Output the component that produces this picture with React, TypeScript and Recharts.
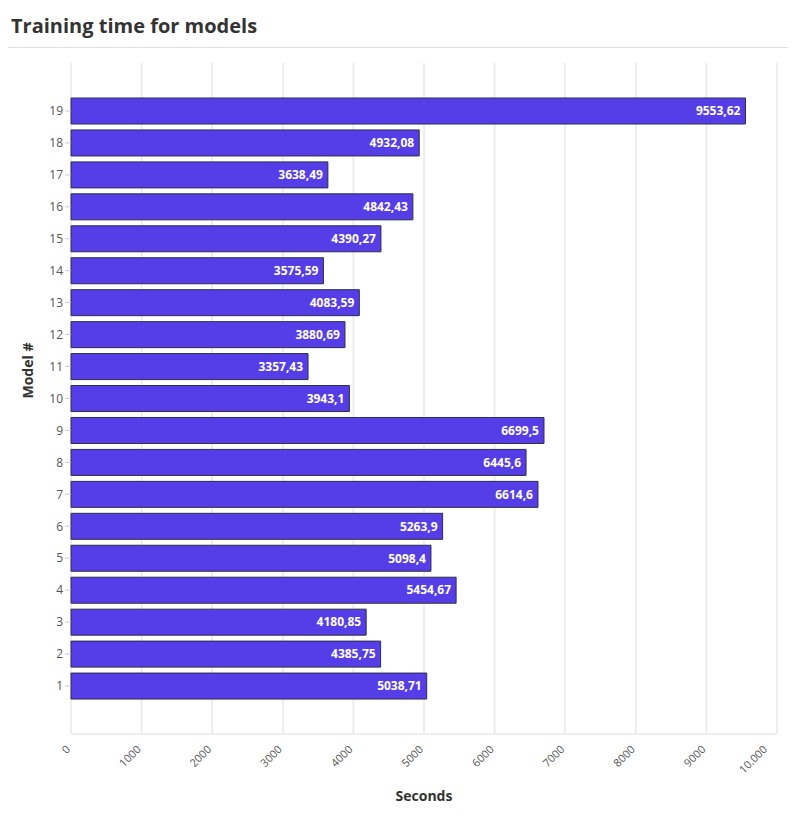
import { Bar, BarChart, CartesianGrid, LabelList, XAxis, YAxis } from 'recharts';

const MODELS = ['19', '18', '17', '16', '15', '14', '13', '12', '11', '10', '9', '8', '7', '6', '5', '4', '3', '2', '1'];
const SECONDS = [
  9553.62, 4932.08, 3638.49, 4842.43, 4390.27, 3575.59, 4083.59, 3880.69, 3357.43, 3943.1, 6699.5, 6445.6, 6614.6,
  5263.9, 5098.4, 5454.67, 4180.85, 4385.75, 5038.71,
];
const X_TICKS = [0, 1000, 2000, 3000, 4000, 5000, 6000, 7000, 8000, 9000, 10000];

const data = MODELS.map((m, i) => ({ model: m, seconds: SECONDS[i] }));
const FONT = '"Open Sans", sans-serif';

function AngledTick({ x, y, payload }: any) {
  const v = payload.value as number;
  const text = v === 10000 ? '10.000' : String(v);
  return (
    <text x={x} y={y + 8} transform={`rotate(-45 ${x} ${y + 8})`} textAnchor="end" fill="#555" fontSize={11} fontFamily={FONT}>
      {text}
    </text>
  );
}

export default function App() {
  return (
    <div style={{ width: 780, fontFamily: FONT }}>
      <div style={{ fontSize: 20, fontWeight: 700, color: '#333', padding: '4px 0 8px 3px', borderBottom: '1px solid #e2e2e2' }}>
        Training time for models
      </div>
      <BarChart width={780} height={780} data={data} layout="vertical" margin={{ top: 15, right: 11, bottom: 22, left: 0 }}>
        <CartesianGrid vertical horizontal={false} stroke="#e8e8e8" strokeWidth={1.5} />
        <XAxis
          type="number"
          domain={[0, 10000]}
          ticks={X_TICKS}
          tick={<AngledTick />}
          tickLine={false}
          axisLine={{ stroke: '#e8e8e8', strokeWidth: 1.5 }}
          height={72}
          label={{ value: 'Seconds', position: 'insideBottom', fill: '#333', fontSize: 14, fontWeight: 700, fontFamily: FONT }}
        />
        <YAxis
          type="category"
          dataKey="model"
          width={63}
          axisLine={false}
          tickLine={{ stroke: '#ccc' }}
          tick={{ fill: '#555', fontSize: 12, fontFamily: FONT }}
          padding={{ top: 32, bottom: 32 }}
          label={{ value: 'Model #', angle: -90, position: 'insideLeft', offset: 20, fill: '#333', fontSize: 14, fontWeight: 700, fontFamily: FONT }}
        />
        <Bar dataKey="seconds" fill="#553ee8" stroke="#2e2e4a" strokeWidth={1} barSize={26} isAnimationActive={false}>
          <LabelList
            dataKey="seconds"
            position="insideRight"
            fill="#fff"
            fontSize={12}
            fontWeight={700}
            fontFamily={FONT}
            formatter={(v: any) => String(v).replace('.', ',')}
          />
        </Bar>
      </BarChart>
    </div>
  );
}
